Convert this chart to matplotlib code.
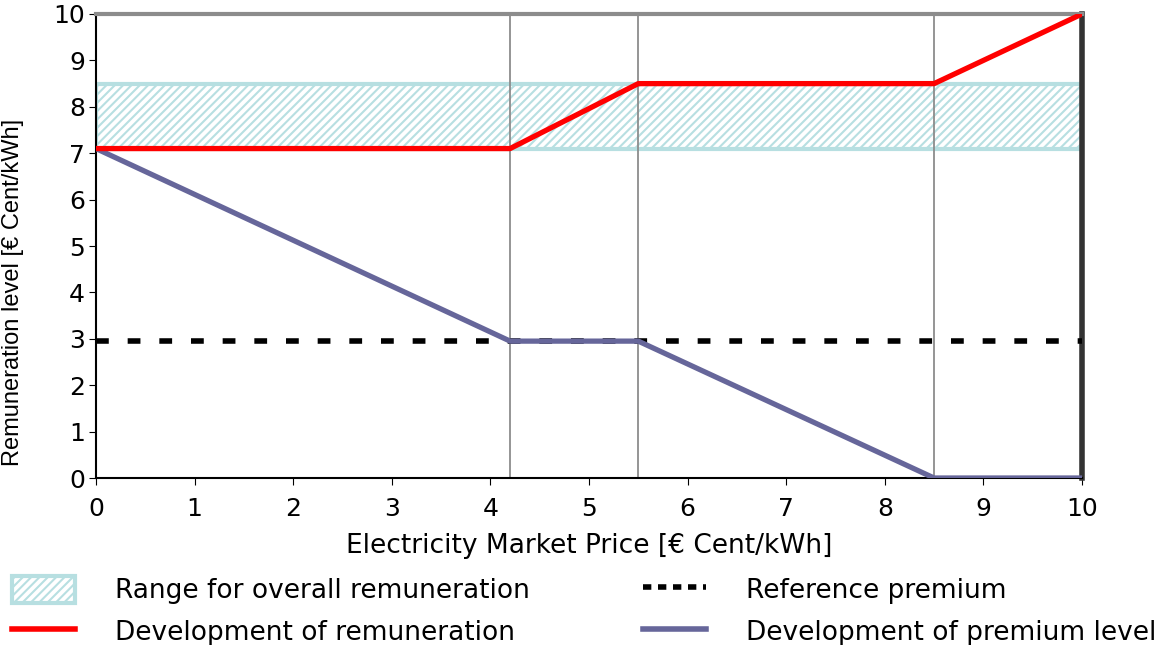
import numpy as np
import matplotlib.pyplot as plt
from matplotlib.patches import Patch
from matplotlib.lines import Line2D

plt.rcParams['font.family'] = ['DejaVu Sans']

# Datos del gráfico
price_breaks = [0, 4.2, 5.5, 8.5, 10]
remuneration = [7.1, 7.1, 8.5, 8.5, 10]
premium_level = [7.1, 2.95, 2.95, 0, 0]
reference_premium = 2.95
range_low, range_high = 7.1, 8.5
guide_lines = [4.2, 5.5, 8.5]

band_color = '#b7dfe1'
red = '#ff0000'
purple = '#66669a'
plt.rcParams['hatch.color'] = band_color
plt.rcParams['hatch.linewidth'] = 1.5

fig = plt.figure(figsize=(11.72, 6.45), dpi=100)
ax = fig.add_axes([0.0819, 0.2589, 0.8413, 0.7194])

# Banda de rango de remuneración
ax.fill_between([0, 10], range_low, range_high, facecolor='white',
                edgecolor=band_color, hatch='////', linewidth=3, zorder=1)

# Líneas verticales guía
for xv in guide_lines:
    ax.axvline(xv, color='#8c8c8c', linewidth=1.3, zorder=2)

# Prima de referencia
ax.axhline(reference_premium, color='black', linestyle=(0, (2.3, 3.4)),
           linewidth=4, zorder=3)

ax.plot(price_breaks, premium_level, color=purple, linewidth=3.8, zorder=4)
ax.plot(price_breaks, remuneration, color=red, linewidth=3.8, zorder=5)

ax.set_xlim(0, 10)
ax.set_ylim(0, 10)
ax.set_xticks(range(0, 11))
ax.set_yticks(range(0, 11))
ax.tick_params(labelsize=18, length=5, direction='out', pad=3)
ax.tick_params(axis='x', pad=9)

ax.spines['top'].set_color('#8c8c8c')
ax.spines['top'].set_linewidth(3)
ax.spines['right'].set_color('#333333')
ax.spines['right'].set_linewidth(4)
ax.spines['left'].set_linewidth(1.5)
ax.spines['bottom'].set_linewidth(1.5)

ax.set_xlabel('Electricity Market Price [€ Cent/kWh]', fontsize=19, labelpad=8)
ax.set_ylabel('Remuneration level [€ Cent/kWh]', fontsize=17,
              family=['Liberation Sans'])
ax.yaxis.set_label_coords(-0.073, 0.40)

handles = [
    Patch(facecolor='white', edgecolor=band_color, hatch='////', linewidth=3),
    Line2D([], [], color=red, linewidth=4),
    Line2D([], [], color='black', linestyle=(0, (1.5, 1.2)), linewidth=4),
    Line2D([], [], color=purple, linewidth=4),
]
labels = ['Range for overall remuneration', 'Development of remuneration',
          'Reference premium', 'Development of premium level']
fig.legend(handles, labels, ncol=2, loc='upper left',
           bbox_to_anchor=(0.01, 0.107), borderaxespad=0, borderpad=0,
           frameon=False, fontsize=19, handlelength=2.4, handleheight=1.2,
           handletextpad=1.5, columnspacing=4.3, labelspacing=0.5)

fig.savefig('out.png', dpi=100)
